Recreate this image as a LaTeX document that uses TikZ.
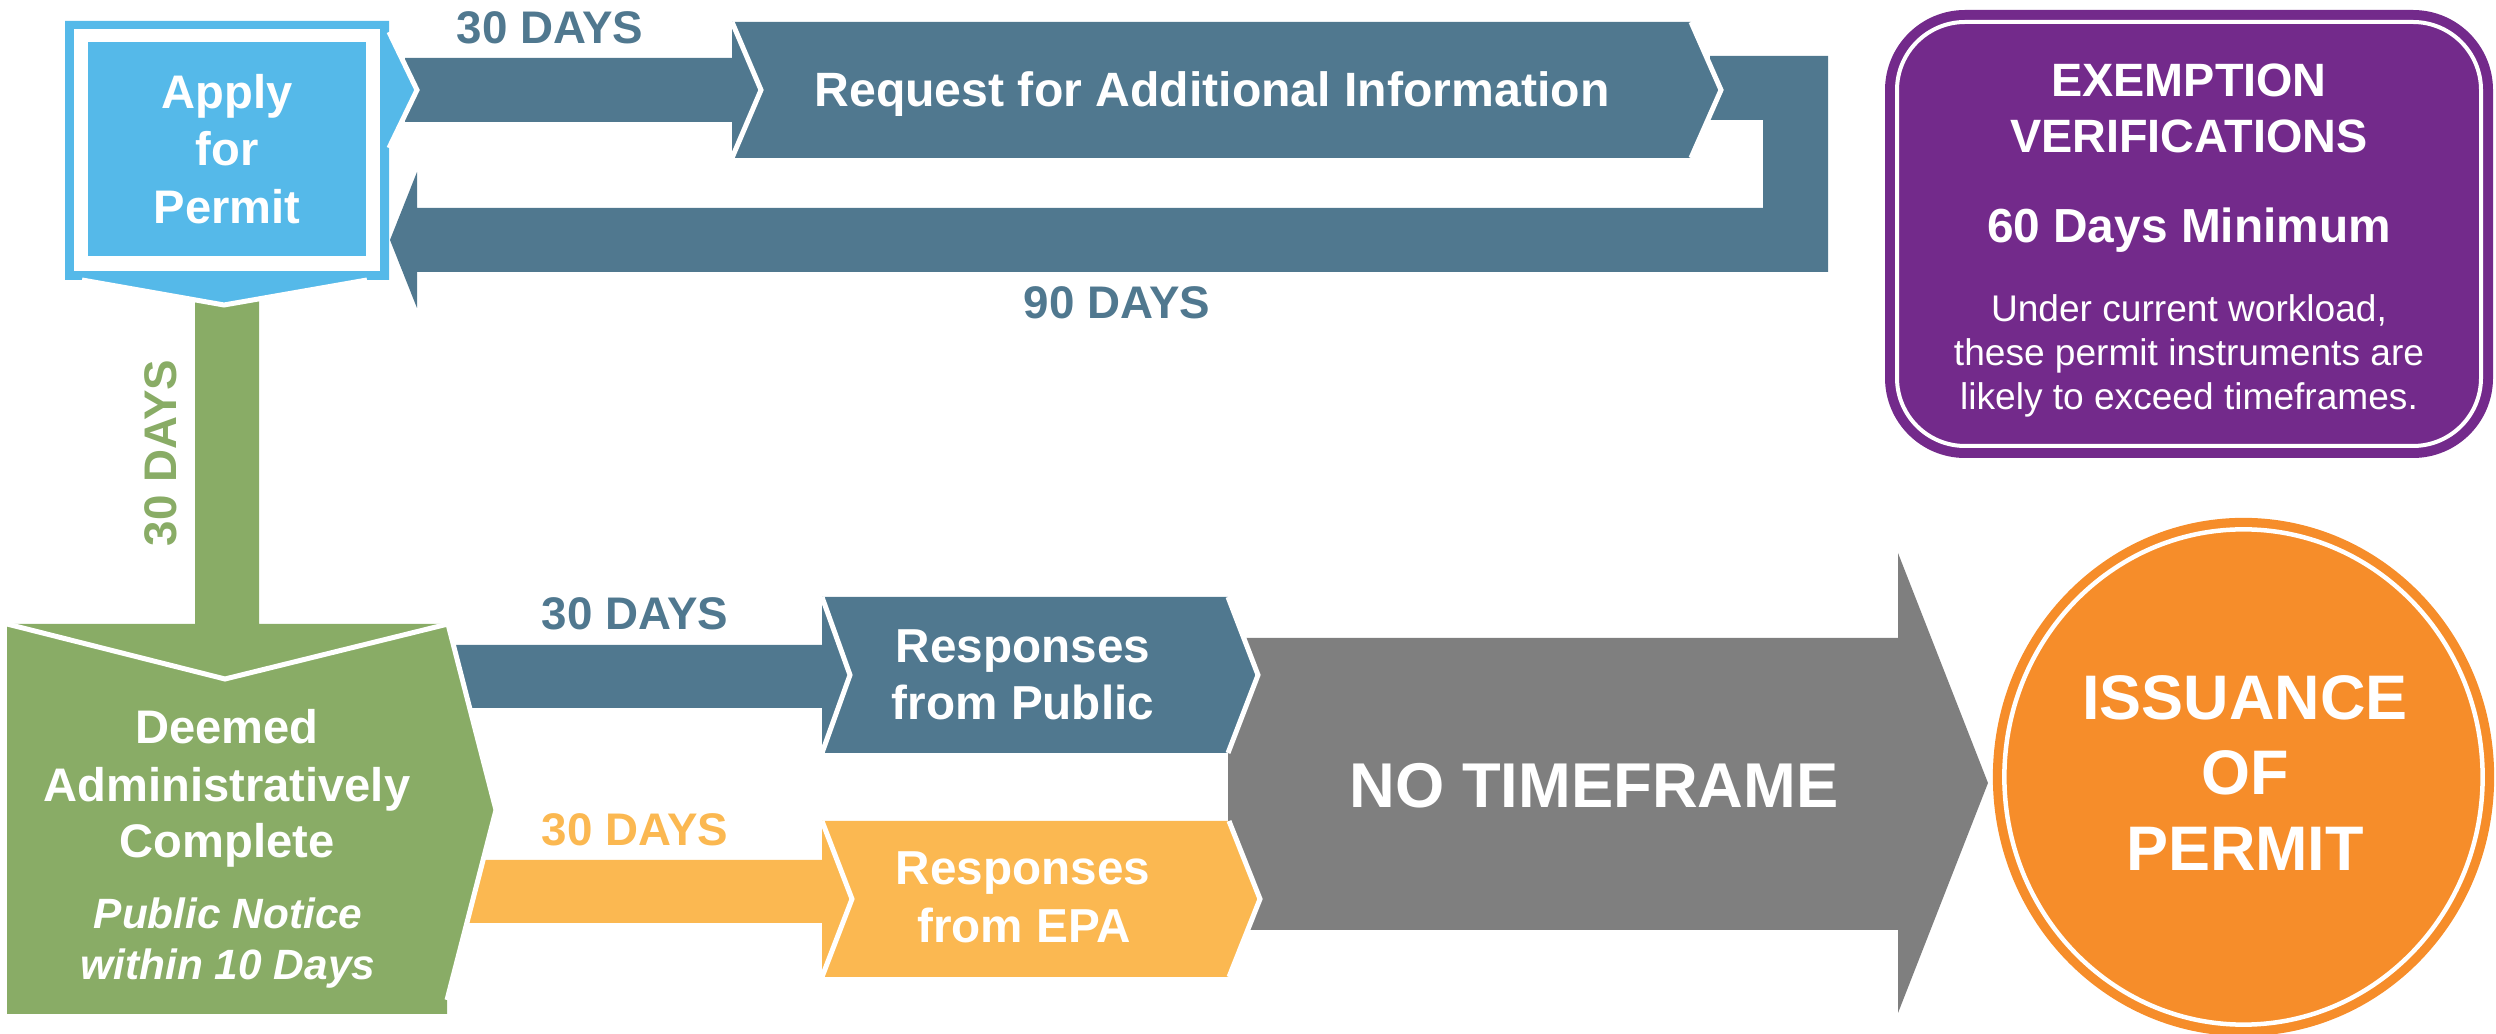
\documentclass[tikz,border=0pt]{standalone}
\usepackage{fontspec}
\setmainfont{Liberation Sans}
\definecolor{steel}{HTML}{50788F}
\definecolor{lblue}{HTML}{55B9E9}
\definecolor{grn}{HTML}{89AC66}
\definecolor{ylw}{HTML}{FBB851}
\definecolor{gry}{HTML}{7F7F7F}
\definecolor{orng}{HTML}{F68D2A}
\definecolor{purp}{HTML}{732A8B}
\newcommand\fsz[1]{\fontsize{#1pt}{#1pt}\selectfont}
\begin{document}
\begin{tikzpicture}[x=0.01cm,y=-0.01cm,
  seam/.style={draw=white,line width=0.05cm},
  lab/.style={inner sep=0pt,anchor=base,text=white}]
\useasboundingbox (0,0) rectangle (2496,1034);

% ---- top request loop ----
\fill[steel] (405,58) -- (732,58) -- (732,22) -- (761,90) -- (732,158) -- (732,122) -- (405,122) -- cycle;
\fill[steel] (1710,56) -- (1828,56) -- (1828,272) -- (417,272) -- (417,308) -- (390,240) -- (417,172) -- (417,208) -- (1763,208) -- (1763,120) -- (1710,120) -- cycle;
\fill[steel] (732,22) -- (1691,22) -- (1721,90) -- (1691,158) -- (732,158) -- (761,90) -- cycle;
\draw[seam] (732,22) -- (761,90) -- (732,158);
\draw[seam] (1691,22) -- (1721,90) -- (1691,158);

% ---- green vertical arrow ----
\fill[grn] (195,290) -- (259,290) -- (259,624) -- (448,624) -- (225,679) -- (7,624) -- (195,624) -- cycle;

% ---- apply box ----
\fill[lblue] (65,21) -- (389,21) -- (389,32) -- (417,90) -- (389,148) -- (389,280) -- (367,280) -- (224,305) -- (82,280) -- (65,280) -- cycle;
\fill[white] (74,29) rectangle (380,271);
\fill[lblue] (88,42) rectangle (366,256);
\draw[seam] (389,32) -- (417,90) -- (389,148);
\draw[seam] (82,280) -- (224,305) -- (367,280);

% ---- gray arrow ----
\fill[gry] (1228,638) -- (1898,638) -- (1898,553) -- (1988,783) -- (1898,1013) -- (1898,930) -- (1228,930) -- cycle;

% ---- public responses ----
\fill[steel] (440,645) -- (822,645) -- (822,597) -- (850,675) -- (822,753) -- (822,708) -- (440,708) -- cycle;
\fill[steel] (822,597) -- (1228,597) -- (1258,675) -- (1228,753) -- (822,753) -- (850,675) -- cycle;
\draw[seam] (822,597) -- (850,675) -- (822,753);
\draw[seam] (1228,597) -- (1258,675) -- (1228,753);

% ---- EPA responses ----
\fill[ylw] (440,860) -- (822,860) -- (822,821) -- (852,899) -- (822,977) -- (822,923) -- (440,923) -- cycle;
\fill[ylw] (822,821) -- (1229,821) -- (1260,899) -- (1229,977) -- (822,977) -- (852,899) -- cycle;
\draw[seam] (822,821) -- (852,899) -- (822,977);
\draw[seam] (1229,821) -- (1260,899) -- (1229,977);

% ---- deemed box ----
\fill[grn] (7,624) -- (225,679) -- (448,624) -- (496,810) -- (447,1000) -- (447,1014) -- (7,1014) -- cycle;
\draw[seam] (7,624) -- (225,679) -- (448,624) -- (496,810) -- (447,1000);

% ---- purple box ----
\fill[purp,rounded corners=0.8cm] (1885,10) rectangle (2493,458);
\draw[white,line width=0.04cm,rounded corners=0.68cm] (1897,22) rectangle (2481,446);

% ---- issuance ellipse ----
\fill[orng] (2243.5,777) ellipse[x radius=2.505cm,y radius=2.59cm];
\draw[white,line width=0.045cm] (2243.5,777) ellipse[x radius=2.39cm,y radius=2.475cm];

% ---- texts ----
\node[lab,font=\bfseries\fsz{13.4}] (apply1) at (227,109) {Apply};
\node[lab,font=\bfseries\fsz{13.4}] (apply2) at (227,166) {for};
\node[lab,font=\bfseries\fsz{13.4}] (apply3) at (227,224) {Permit};

\node[lab,text=steel,font=\bfseries\fsz{13}] (d30a) at (550,44) {30 DAYS};
\node[lab,font=\bfseries\fsz{13.7}] (req) at (1212,107) {Request for Additional Information};
\node[lab,text=steel,font=\bfseries\fsz{13}] (d90) at (1117,319) {90 DAYS};

\node[lab,text=grn,rotate=90,font=\bfseries\fsz{13}] (d30v) at (176,453) {30 DAYS};

\node[lab,font=\bfseries\fsz{13.3}] (ex1) at (2189,97) {EXEMPTION};
\node[lab,font=\bfseries\fsz{13.3}] (ex2) at (2189,153) {VERIFICATIONS};
\node[lab,font=\bfseries\fsz{13.6}] (ex3) at (2189,243) {60 Days Minimum};
\node[lab,font=\fsz{10.55}] (ex4) at (2189,322) {Under current workload,};
\node[lab,font=\fsz{10.55}] (ex5) at (2189,366) {these permit instruments are};
\node[lab,font=\fsz{10.55}] (ex6) at (2189,410) {likely to exceed timeframes.};

\node[lab,text=steel,font=\bfseries\fsz{13}] (d30b) at (635,630) {30 DAYS};
\node[lab,text=ylw,font=\bfseries\fsz{13}] (d30c) at (635,846) {30 DAYS};

\node[lab,font=\bfseries\fsz{13.55}] (pub1) at (1023,663) {Responses};
\node[lab,font=\bfseries\fsz{13.55}] (pub2) at (1023,720) {from Public};
\node[lab,font=\bfseries\fsz{13.55}] (epa1) at (1023,885) {Responses};
\node[lab,font=\bfseries\fsz{13.55}] (epa2) at (1024,943) {from EPA};

\node[lab,font=\bfseries\fsz{13.4}] (dm1) at (227,744) {Deemed};
\node[lab,font=\bfseries\fsz{13.4}] (dm2) at (227,802) {Administratively};
\node[lab,font=\bfseries\fsz{13.4}] (dm3) at (227,858) {Complete};
\node[lab,font=\bfseries\itshape\fsz{12.05}] (dm4) at (228,929) {Public Notice};
\node[lab,font=\bfseries\itshape\fsz{12.05}] (dm5) at (228,980) {within 10 Days};

\node[lab,font=\bfseries\fsz{18}] (nt) at (1594,808) {NO TIMEFRAME};

\node[lab,font=\bfseries\fsz{17.9}] (is1) at (2245,720) {ISSUANCE};
\node[lab,font=\bfseries\fsz{17.9}] (is2) at (2245,795) {OF};
\node[lab,font=\bfseries\fsz{17.9}] (is3) at (2245,871) {PERMIT};
\end{tikzpicture}
\end{document}
